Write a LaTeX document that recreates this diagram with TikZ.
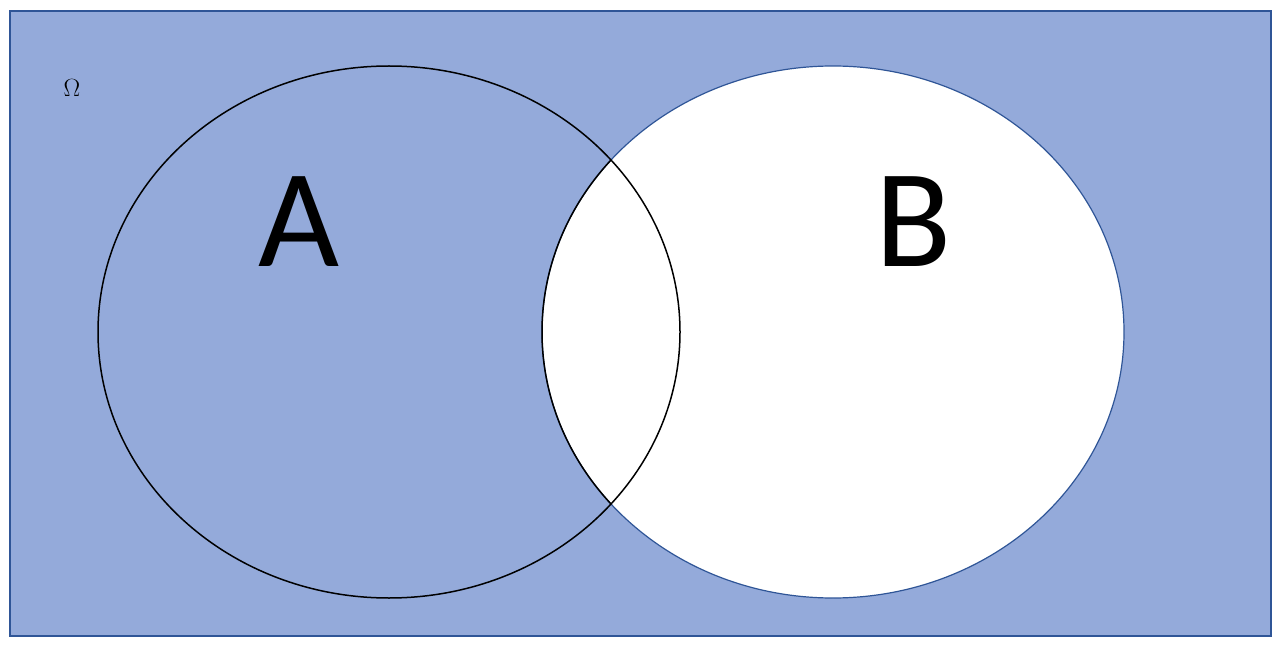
\documentclass[tikz,border=0pt]{standalone}
\usepackage{fontspec}
\newfontfamily\carl{Carlito}
\definecolor{bg}{HTML}{94AADA}
\definecolor{bd}{HTML}{2F5597}
\begin{document}
\begin{tikzpicture}[x=1pt,y=-1pt,
  lab/.style={inner sep=0pt,anchor=center}]
\useasboundingbox (0,0) rectangle (1280,655);
\draw[fill=bg,draw=bd,line width=1.2pt] (10,11) rectangle (1271,636);
\draw[fill=white,draw=bd,line width=1.2pt] (833,332) ellipse [x radius=291,y radius=266];
\begin{scope}
\clip (389,332) ellipse [x radius=291,y radius=266];
\draw[black,line width=1.5pt] (833,332) ellipse [x radius=291,y radius=266];
\end{scope}
\draw[black,line width=1.5pt] (389,332) ellipse [x radius=291,y radius=266];
\node[lab] (omega) at (72,88) {\fontsize{90}{90}\selectfont$\Omega$};
\node[lab] (a) at (299,222) {\carl\fontsize{140}{140}\selectfont A};
\node[lab] (b) at (914,222) {\carl\fontsize{140}{140}\selectfont B};
\end{tikzpicture}
\end{document}
